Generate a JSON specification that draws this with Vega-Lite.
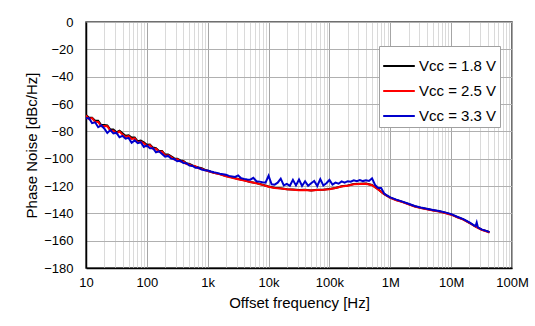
{
 "$schema": "https://vega.github.io/schema/vega-lite/v6.json",
 "width": 426,
 "height": 246,
 "autosize": {"type": "none"},
 "padding": {"left": 86, "top": 22, "right": 23, "bottom": 58},
 "background": "white",
 "config": {"view": {"stroke": "#404040", "strokeWidth": 1.5}, "font": "Liberation Sans"},
 "data": {"values": [
  {"s":"1.8","f":10,"v":-68.0},{"s":"1.8","f":11.22,"v":-70.0},{"s":"1.8","f":12.59,"v":-70.0},{"s":"1.8","f":14.13,"v":-72.2},{"s":"1.8","f":15.85,"v":-72.2},{"s":"1.8","f":17.78,"v":-75.4},{"s":"1.8","f":19.95,"v":-75.3},{"s":"1.8","f":22.39,"v":-75.7},{"s":"1.8","f":25.12,"v":-78.7},{"s":"1.8","f":28.18,"v":-78.7},
  {"s":"1.8","f":31.62,"v":-80.7},{"s":"1.8","f":35.48,"v":-79.6},{"s":"1.8","f":39.81,"v":-81.5},{"s":"1.8","f":44.67,"v":-83.2},{"s":"1.8","f":50.12,"v":-82.9},{"s":"1.8","f":56.23,"v":-84.6},{"s":"1.8","f":63.1,"v":-84.6},{"s":"1.8","f":70.79,"v":-87.3},{"s":"1.8","f":79.43,"v":-86.7},{"s":"1.8","f":89.13,"v":-88.0},
  {"s":"1.8","f":100,"v":-89.9},{"s":"1.8","f":112.2,"v":-89.7},{"s":"1.8","f":125.9,"v":-91.9},{"s":"1.8","f":141.3,"v":-92.3},{"s":"1.8","f":158.5,"v":-94.3},{"s":"1.8","f":177.8,"v":-94.4},{"s":"1.8","f":199.5,"v":-97.0},{"s":"1.8","f":223.9,"v":-97.0},{"s":"1.8","f":251.2,"v":-98.3},{"s":"1.8","f":281.8,"v":-99.8},
  {"s":"1.8","f":316.2,"v":-100.0},{"s":"1.8","f":354.8,"v":-101.3},{"s":"1.8","f":398.1,"v":-101.6},{"s":"1.8","f":446.7,"v":-103.3},{"s":"1.8","f":501.2,"v":-103.8},{"s":"1.8","f":562.3,"v":-104.9},{"s":"1.8","f":631,"v":-105.9},{"s":"1.8","f":707.9,"v":-106.5},{"s":"1.8","f":794.3,"v":-107.0},{"s":"1.8","f":891.3,"v":-108.0},
  {"s":"1.8","f":1000,"v":-108.8},{"s":"1.8","f":1259,"v":-110.3},{"s":"1.8","f":1585,"v":-111.3},{"s":"1.8","f":1995,"v":-112.7},{"s":"1.8","f":2512,"v":-113.7},{"s":"1.8","f":3162,"v":-114.9},{"s":"1.8","f":3981,"v":-115.8},{"s":"1.8","f":5012,"v":-117.0},{"s":"1.8","f":6310,"v":-117.8},{"s":"1.8","f":7943,"v":-119.1},
  {"s":"1.8","f":10000,"v":-120.3},{"s":"1.8","f":12589,"v":-121.3},{"s":"1.8","f":15849,"v":-121.6},{"s":"1.8","f":19953,"v":-122.3},{"s":"1.8","f":25119,"v":-122.5},{"s":"1.8","f":31623,"v":-123.0},{"s":"1.8","f":39811,"v":-122.8},{"s":"1.8","f":50119,"v":-123.2},{"s":"1.8","f":63096,"v":-122.7},{"s":"1.8","f":79433,"v":-122.7},
  {"s":"1.8","f":100000,"v":-122.1},{"s":"1.8","f":125893,"v":-121.4},{"s":"1.8","f":158489,"v":-120.2},{"s":"1.8","f":199526,"v":-119.7},{"s":"1.8","f":251189,"v":-118.6},{"s":"1.8","f":316228,"v":-118.4},{"s":"1.8","f":398107,"v":-118.2},{"s":"1.8","f":501187,"v":-119.3},{"s":"1.8","f":630957,"v":-122.4},{"s":"1.8","f":794328,"v":-125.9},
  {"s":"1.8","f":1000000,"v":-128.5},{"s":"1.8","f":1258925,"v":-130.3},{"s":"1.8","f":1584893,"v":-131.6},{"s":"1.8","f":1995262,"v":-133.3},{"s":"1.8","f":2511886,"v":-134.8},{"s":"1.8","f":3162278,"v":-136.0},{"s":"1.8","f":3981072,"v":-136.8},{"s":"1.8","f":5011872,"v":-137.8},{"s":"1.8","f":6309573,"v":-138.5},{"s":"1.8","f":7943282,"v":-139.6},
  {"s":"1.8","f":10000000,"v":-140.8},{"s":"1.8","f":12589254,"v":-142.8},{"s":"1.8","f":15848932,"v":-144.4},{"s":"1.8","f":19952623,"v":-146.9},{"s":"1.8","f":25118864,"v":-149.6},{"s":"1.8","f":31622777,"v":-151.9},{"s":"1.8","f":39810717,"v":-153.3},{"s":"1.8","f":42657952,"v":-153.9},

  {"s":"2.5","f":10,"v":-68.4},{"s":"2.5","f":11.22,"v":-71.0},{"s":"2.5","f":12.59,"v":-70.3},{"s":"2.5","f":14.13,"v":-73.0},{"s":"2.5","f":15.85,"v":-73.1},{"s":"2.5","f":17.78,"v":-76.3},{"s":"2.5","f":19.95,"v":-76.1},{"s":"2.5","f":22.39,"v":-76.2},{"s":"2.5","f":25.12,"v":-79.6},{"s":"2.5","f":28.18,"v":-79.5},
  {"s":"2.5","f":31.62,"v":-81.5},{"s":"2.5","f":35.48,"v":-80.2},{"s":"2.5","f":39.81,"v":-82.4},{"s":"2.5","f":44.67,"v":-84.2},{"s":"2.5","f":50.12,"v":-83.5},{"s":"2.5","f":56.23,"v":-85.6},{"s":"2.5","f":63.1,"v":-85.2},{"s":"2.5","f":70.79,"v":-88.2},{"s":"2.5","f":79.43,"v":-87.5},{"s":"2.5","f":89.13,"v":-88.7},
  {"s":"2.5","f":100,"v":-90.9},{"s":"2.5","f":112.2,"v":-90.1},{"s":"2.5","f":125.9,"v":-92.7},{"s":"2.5","f":141.3,"v":-92.8},{"s":"2.5","f":158.5,"v":-95.0},{"s":"2.5","f":177.8,"v":-94.8},{"s":"2.5","f":199.5,"v":-97.8},{"s":"2.5","f":223.9,"v":-97.6},{"s":"2.5","f":251.2,"v":-98.8},{"s":"2.5","f":281.8,"v":-100.6},
  {"s":"2.5","f":316.2,"v":-100.4},{"s":"2.5","f":354.8,"v":-102.0},{"s":"2.5","f":398.1,"v":-102.0},{"s":"2.5","f":446.7,"v":-103.9},{"s":"2.5","f":501.2,"v":-104.2},{"s":"2.5","f":562.3,"v":-105.4},{"s":"2.5","f":631,"v":-105.6},{"s":"2.5","f":707.9,"v":-107.0},{"s":"2.5","f":794.3,"v":-107.3},{"s":"2.5","f":891.3,"v":-108.4},
  {"s":"2.5","f":1000,"v":-109.0},{"s":"2.5","f":1259,"v":-110.4},{"s":"2.5","f":1585,"v":-111.5},{"s":"2.5","f":1995,"v":-112.8},{"s":"2.5","f":2512,"v":-113.9},{"s":"2.5","f":3162,"v":-115.0},{"s":"2.5","f":3981,"v":-116.0},{"s":"2.5","f":5012,"v":-117.1},{"s":"2.5","f":6310,"v":-118.0},{"s":"2.5","f":7943,"v":-119.2},
  {"s":"2.5","f":10000,"v":-120.5},{"s":"2.5","f":12589,"v":-121.4},{"s":"2.5","f":15849,"v":-121.8},{"s":"2.5","f":19953,"v":-122.4},{"s":"2.5","f":25119,"v":-122.7},{"s":"2.5","f":31623,"v":-123.1},{"s":"2.5","f":39811,"v":-123.0},{"s":"2.5","f":50119,"v":-123.3},{"s":"2.5","f":63096,"v":-122.9},{"s":"2.5","f":79433,"v":-122.8},
  {"s":"2.5","f":100000,"v":-122.3},{"s":"2.5","f":125893,"v":-121.5},{"s":"2.5","f":158489,"v":-120.4},{"s":"2.5","f":199526,"v":-119.8},{"s":"2.5","f":251189,"v":-118.8},{"s":"2.5","f":316228,"v":-118.5},{"s":"2.5","f":398107,"v":-118.4},{"s":"2.5","f":501187,"v":-119.4},{"s":"2.5","f":630957,"v":-122.6},{"s":"2.5","f":794328,"v":-126.0},
  {"s":"2.5","f":1000000,"v":-128.7},{"s":"2.5","f":1258925,"v":-130.4},{"s":"2.5","f":1584893,"v":-131.8},{"s":"2.5","f":1995262,"v":-133.4},{"s":"2.5","f":2511886,"v":-135.0},{"s":"2.5","f":3162278,"v":-136.1},{"s":"2.5","f":3981072,"v":-137.0},{"s":"2.5","f":5011872,"v":-137.9},{"s":"2.5","f":6309573,"v":-138.7},{"s":"2.5","f":7943282,"v":-139.7},
  {"s":"2.5","f":10000000,"v":-141.0},{"s":"2.5","f":12589254,"v":-142.9},{"s":"2.5","f":15848932,"v":-144.6},{"s":"2.5","f":19952623,"v":-147.0},{"s":"2.5","f":25118864,"v":-149.8},{"s":"2.5","f":31622777,"v":-152.0},{"s":"2.5","f":39810717,"v":-153.5},{"s":"2.5","f":42657952,"v":-154.0},

  {"s":"3.3","f":10,"v":-70.5},{"s":"3.3","f":11.22,"v":-70.4},{"s":"3.3","f":12.59,"v":-74.0},{"s":"3.3","f":14.13,"v":-73.4},{"s":"3.3","f":15.85,"v":-77.0},{"s":"3.3","f":17.78,"v":-75.6},{"s":"3.3","f":19.95,"v":-77.9},{"s":"3.3","f":22.39,"v":-81.2},{"s":"3.3","f":25.12,"v":-79.1},{"s":"3.3","f":28.18,"v":-81.5},
  {"s":"3.3","f":31.62,"v":-81.0},{"s":"3.3","f":35.48,"v":-84.3},{"s":"3.3","f":39.81,"v":-83.3},{"s":"3.3","f":44.67,"v":-85.4},{"s":"3.3","f":50.12,"v":-84.8},{"s":"3.3","f":56.23,"v":-88.4},{"s":"3.3","f":63.1,"v":-86.6},{"s":"3.3","f":70.79,"v":-88.6},{"s":"3.3","f":79.43,"v":-88.0},{"s":"3.3","f":89.13,"v":-91.4},
  {"s":"3.3","f":100,"v":-90.3},{"s":"3.3","f":112.2,"v":-92.3},{"s":"3.3","f":125.9,"v":-92.3},{"s":"3.3","f":141.3,"v":-95.3},{"s":"3.3","f":158.5,"v":-94.6},{"s":"3.3","f":177.8,"v":-96.6},{"s":"3.3","f":199.5,"v":-98.6},{"s":"3.3","f":223.9,"v":-98.0},{"s":"3.3","f":251.2,"v":-100.0},{"s":"3.3","f":281.8,"v":-100.3},
  {"s":"3.3","f":316.2,"v":-101.9},{"s":"3.3","f":354.8,"v":-101.6},{"s":"3.3","f":398.1,"v":-103.1},{"s":"3.3","f":446.7,"v":-103.3},{"s":"3.3","f":501.2,"v":-105.0},{"s":"3.3","f":562.3,"v":-105.3},{"s":"3.3","f":631,"v":-106.7},{"s":"3.3","f":707.9,"v":-106.7},{"s":"3.3","f":794.3,"v":-108.0},{"s":"3.3","f":891.3,"v":-108.4},
  {"s":"3.3","f":1000,"v":-108.7},{"s":"3.3","f":1122,"v":-109.4},{"s":"3.3","f":1259,"v":-110.0},{"s":"3.3","f":1413,"v":-110.4},{"s":"3.3","f":1585,"v":-111.0},{"s":"3.3","f":1778,"v":-111.4},{"s":"3.3","f":1995,"v":-111.8},{"s":"3.3","f":2239,"v":-112.6},{"s":"3.3","f":2512,"v":-113.0},{"s":"3.3","f":2818,"v":-113.4},
  {"s":"3.3","f":3162,"v":-112.3},{"s":"3.3","f":3548,"v":-114.3},{"s":"3.3","f":3981,"v":-114.8},{"s":"3.3","f":4467,"v":-115.2},{"s":"3.3","f":5012,"v":-115.4},{"s":"3.3","f":5623,"v":-114.0},{"s":"3.3","f":6310,"v":-116.5},{"s":"3.3","f":7079,"v":-116.8},{"s":"3.3","f":7943,"v":-117.3},{"s":"3.3","f":8913,"v":-117.5},
  {"s":"3.3","f":10000,"v":-112.5},{"s":"3.3","f":11220,"v":-118.7},{"s":"3.3","f":12589,"v":-119.0},{"s":"3.3","f":14125,"v":-117.6},{"s":"3.3","f":15849,"v":-114.6},{"s":"3.3","f":17783,"v":-119.5},{"s":"3.3","f":19953,"v":-118.4},{"s":"3.3","f":22387,"v":-119.8},{"s":"3.3","f":25119,"v":-115.5},{"s":"3.3","f":28184,"v":-119.6},
  {"s":"3.3","f":31623,"v":-115.3},{"s":"3.3","f":35481,"v":-120.0},{"s":"3.3","f":39811,"v":-116.5},{"s":"3.3","f":44668,"v":-119.8},{"s":"3.3","f":50119,"v":-118.0},{"s":"3.3","f":56234,"v":-116.3},{"s":"3.3","f":63096,"v":-120.0},{"s":"3.3","f":70795,"v":-115.0},{"s":"3.3","f":79433,"v":-119.6},{"s":"3.3","f":89125,"v":-118.0},
  {"s":"3.3","f":100000,"v":-115.6},{"s":"3.3","f":112202,"v":-119.0},{"s":"3.3","f":125893,"v":-117.5},{"s":"3.3","f":141254,"v":-118.3},{"s":"3.3","f":158489,"v":-116.6},{"s":"3.3","f":177828,"v":-117.6},{"s":"3.3","f":199526,"v":-116.5},{"s":"3.3","f":223872,"v":-116.9},{"s":"3.3","f":251189,"v":-115.8},{"s":"3.3","f":281838,"v":-116.5},
  {"s":"3.3","f":316228,"v":-115.6},{"s":"3.3","f":354813,"v":-116.4},{"s":"3.3","f":398107,"v":-115.8},{"s":"3.3","f":446684,"v":-116.3},{"s":"3.3","f":501187,"v":-114.4},{"s":"3.3","f":562341,"v":-119.2},{"s":"3.3","f":630957,"v":-121.5},{"s":"3.3","f":707946,"v":-121.5},{"s":"3.3","f":794328,"v":-125.5},{"s":"3.3","f":891251,"v":-127.0},
  {"s":"3.3","f":1000000,"v":-128.3},{"s":"3.3","f":1258925,"v":-130.0},{"s":"3.3","f":1584893,"v":-131.4},{"s":"3.3","f":1995262,"v":-133.0},{"s":"3.3","f":2511886,"v":-134.6},{"s":"3.3","f":3162278,"v":-135.7},{"s":"3.3","f":3981072,"v":-136.6},{"s":"3.3","f":5011872,"v":-137.5},{"s":"3.3","f":6309573,"v":-138.3},{"s":"3.3","f":7943282,"v":-139.3},
  {"s":"3.3","f":10000000,"v":-140.6},{"s":"3.3","f":12589254,"v":-142.5},{"s":"3.3","f":15848932,"v":-144.2},{"s":"3.3","f":19952623,"v":-146.6},{"s":"3.3","f":23988329,"v":-149.0},{"s":"3.3","f":25118864,"v":-149.4},{"s":"3.3","f":26302680,"v":-146.6},{"s":"3.3","f":27542287,"v":-150.3},{"s":"3.3","f":31622777,"v":-151.7},{"s":"3.3","f":39810717,"v":-153.2},{"s":"3.3","f":42657952,"v":-153.8}
 ]},
 "mark": {"type": "line", "strokeWidth": 2, "clip": true},
 "encoding": {
  "x": {
   "field": "f", "type": "quantitative",
   "scale": {"type": "log", "domain": [10, 100000000]},
   "axis": {
    "values": [10,20,30,40,50,60,70,80,90,100,200,300,400,500,600,700,800,900,1000,2000,3000,4000,5000,6000,7000,8000,9000,10000,20000,30000,40000,50000,60000,70000,80000,90000,100000,200000,300000,400000,500000,600000,700000,800000,900000,1000000,2000000,3000000,4000000,5000000,6000000,7000000,8000000,9000000,10000000,20000000,30000000,40000000,50000000,60000000,70000000,80000000,90000000,100000000],
    "labelExpr": "abs(log(datum.value)/LN10 - round(log(datum.value)/LN10)) < 0.01 ? (datum.value >= 1e6 ? format(datum.value/1e6,'d') + 'M' : datum.value >= 1e3 ? format(datum.value/1e3,'d') + 'k' : format(datum.value,'d')) : ''",
    "labelOverlap": false,
    "labelFlush": false,
    "labelFontSize": 13,
    "labelColor": "#000000",
    "labelPadding": 8,
    "ticks": false,
    "domainColor": "#000000",
    "domainWidth": 1.5,
    "grid": true,
    "gridColor": {"condition": {"test": "abs(log(datum.value)/LN10 - round(log(datum.value)/LN10)) < 0.01", "value": "#a6a6a6"}, "value": "#dadada"},
    "gridWidth": 1,
    "title": "Offset frequency [Hz]",
    "titleFontSize": 15,
    "titleFontWeight": "normal",
    "titleColor": "#000000",
    "titlePadding": 6
   }
  },
  "y": {
   "field": "v", "type": "quantitative",
   "scale": {"domain": [-180, 0]},
   "axis": {
    "values": [-180,-160,-140,-120,-100,-80,-60,-40,-20,0],
    "labelFontSize": 13,
    "labelColor": "#000000",
    "labelPadding": 13,
    "ticks": false,
    "domainColor": "#000000",
    "domainWidth": 1.5,
    "grid": true,
    "gridColor": "#b0b0b0",
    "gridWidth": 1,
    "title": "Phase Noise [dBc/Hz]",
    "titleFontSize": 15,
    "titleFontWeight": "normal",
    "titleColor": "#000000",
    "titlePadding": 4
   }
  },
  "color": {
   "field": "s", "type": "nominal",
   "scale": {"domain": ["1.8", "2.5", "3.3"], "range": ["#000000", "#ff0000", "#0000cc"]},
   "legend": {
    "orient": "none",
    "legendX": 293,
    "legendY": 24,
    "title": null,
    "symbolType": "stroke",
    "symbolSize": 1000,
    "symbolStrokeWidth": 2,
    "labelFontSize": 15,
    "labelColor": "#000000",
    "labelOffset": 3,
    "labelExpr": "'Vcc = ' + datum.label + ' V'",
    "fillColor": "white",
    "strokeColor": "#a0a0a0",
    "padding": 3,
    "rowPadding": -4
   }
  }
 }
}
